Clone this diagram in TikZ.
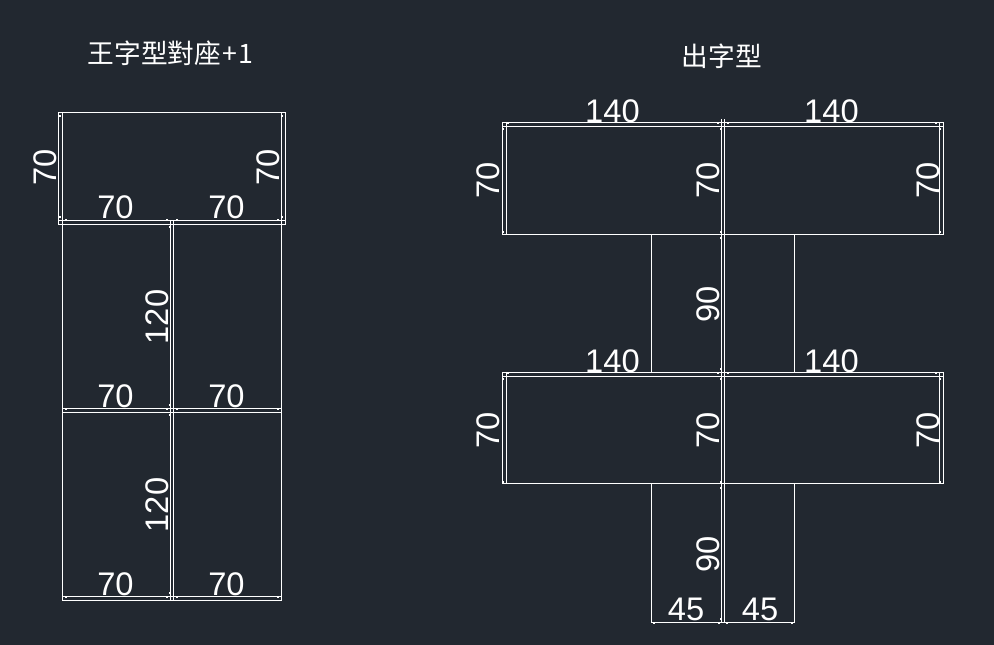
\documentclass[tikz,border=0pt]{standalone}
\usepackage{fontspec}
\setmainfont{Liberation Sans}
\newfontfamily\cjkfont{Noto Sans CJK TC}
\definecolor{planbg}{HTML}{222830}
\tikzset{
    wall/.style={draw=white, line width=0.6pt},
    dimlabel/.style={text=white, inner sep=0pt, font=\fontsize{18.6}{19}\selectfont},
    vdimlabel/.style={dimlabel, rotate=90},
    titlelabel/.style={text=white, inner sep=0pt, font=\fontsize{15.2}{16}\cjkfont}
}
\newcommand{\tickdots}[1]{\foreach \tx/\ty in {#1} \fill[white] (\tx-1,\ty-1) rectangle (\tx+1,\ty+1);}
\begin{document}
\begin{tikzpicture}[x=0.02cm, y=-0.02cm]
    % Background
    \fill[planbg] (0,0) rectangle (994,645);
    \useasboundingbox (0,0) rectangle (994,645);

    % Titles
    \node[titlelabel] (titleleft) at (170.5,53) {王字型對座\kern0.6pt+\kern0.6pt 1};
    \node[titlelabel] (titleright) at (722,56) {出字型};

    % Left plan, top room
    \draw[wall] (58.5,112.5) rectangle (285.5,224.5);
    \draw[wall] (62.5,112.5) -- (62.5,224.5);
    \draw[wall] (281.5,112.5) -- (281.5,224.5);
    \draw[wall] (58.5,220.5) -- (285.5,220.5);
    \tickdots{65.7/220.5, 167/220.5, 176.7/220.5, 278.3/220.5, 60/115.7, 60/217.3, 281.7/115.7, 281.7/217.3}
    \node[vdimlabel] (lefta) at (45.5,167) {70};
    \node[vdimlabel] (leftb) at (268.5,167) {70};
    \node[dimlabel] (leftc) at (115.5,207.5) {70};
    \node[dimlabel] (leftd) at (226.5,207.5) {70};

    % Left plan, lower rooms
    \foreach \rowy/\rowname in {0/p, 188/q} {
        \begin{scope}[shift={(0,\rowy)}]
            \draw[wall] (62.5,224.5) -- (62.5,412.5);
            \draw[wall] (281.5,224.5) -- (281.5,412.5);
            \draw[wall] (170.5,220.5) -- (170.5,412.5);
            \draw[wall] (173.5,220.5) -- (173.5,412.5);
            \draw[wall] (62.5,408.5) -- (281.5,408.5);
            \draw[wall] (62.5,412.5) -- (281.5,412.5);
            \tickdots{66/408.5, 167/408.5, 176.7/408.5, 278.3/408.5, 170/227.3, 170/405}
            \node[vdimlabel] (len\rowname) at (157,317) {120};
            \node[dimlabel] (widea\rowname) at (115.5,396.5) {70};
            \node[dimlabel] (wideb\rowname) at (226.5,396.5) {70};
        \end{scope}
    }

    % Right plan, the two floors
    \foreach \rowy/\rowbot/\rowname in {0/234.5/p, 250/233.5/q} {
        \begin{scope}[shift={(0,\rowy)}]
            \draw[wall] (502.5,122.5) rectangle (943.5,\rowbot);
            \draw[wall] (502.5,126.5) -- (943.5,126.5);
            \draw[wall] (506.5,122.5) -- (506.5,\rowbot);
            \draw[wall] (939.5,122.5) -- (939.5,\rowbot);
            \draw[wall] (721.5,119.5) -- (721.5,372.5);
            \draw[wall] (724.5,119.5) -- (724.5,372.5);
            \draw[wall] (651.5,\rowbot) -- (651.5,372.5);
            \draw[wall] (794.5,\rowbot) -- (794.5,372.5);
            \tickdots{507.7/123, 718.3/123, 728/123, 936/123, 503/129.3, 503/231.7, 721/129.3, 721/231.7, 940/129.3, 940/231.7, 721/238, 721/369}
            \node[dimlabel] (spana\rowname) at (612.5,111) {140};
            \node[dimlabel] (spanb\rowname) at (831.5,111) {140};
            \node[vdimlabel] (deepa\rowname) at (488,180.5) {70};
            \node[vdimlabel] (deepb\rowname) at (708,180.5) {70};
            \node[vdimlabel] (deepc\rowname) at (928,180.5) {70};
            \node[vdimlabel] (leg\rowname) at (708,304) {90};
        \end{scope}
    }

    % Right plan, bottom dimension
    \draw[wall] (651.5,622.5) -- (794.5,622.5);
    \tickdots{654/622.5, 719.3/622.5, 727.3/622.5, 791.7/622.5}
    \node[dimlabel] (halfa) at (686,609.5) {45};
    \node[dimlabel] (halfb) at (760,609.5) {45};
\end{tikzpicture}
\end{document}
